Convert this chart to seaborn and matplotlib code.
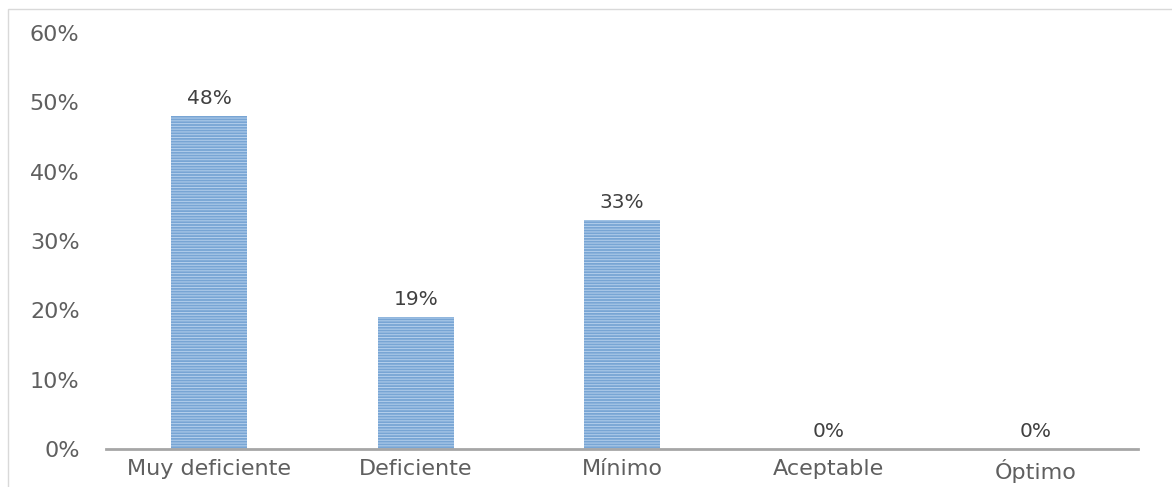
import matplotlib
matplotlib.use("Agg")
import matplotlib.pyplot as plt
import seaborn as sns
import pandas as pd
from matplotlib.patches import Rectangle

categories = ["Muy deficiente", "Deficiente", "Mínimo", "Aceptable", "Óptimo"]
values = [0.48, 0.19, 0.33, 0.0, 0.0]
labels = ["48%", "19%", "33%", "0%", "0%"]
yticks = [0, 0.1, 0.2, 0.3, 0.4, 0.5, 0.6]
ytick_labels = ["0%", "10%", "20%", "30%", "40%", "50%", "60%"]

sns.set_theme(style="white")
plt.rcParams["font.family"] = ["DejaVu Sans"]
plt.rcParams["hatch.linewidth"] = 0.7

df = pd.DataFrame({"cat": categories, "val": values})

fig = plt.figure(figsize=(11.72, 4.87), dpi=100)
ax = fig.add_axes([0.0904, 0.078, 0.881, 0.854])

sns.barplot(data=df, x="cat", y="val", color="#78a5d4", saturation=1,
            width=0.37, ax=ax)
for p in ax.patches:
    p.set_hatch("------")
    p.set_edgecolor("#b5d0ec")
    p.set_linewidth(0)

ax.set_ylim(0, 0.6)
ax.set_xlim(-0.5, 4.5)
ax.set_yticks(yticks)
ax.set_yticklabels(ytick_labels, fontsize=16, color="#5f5f5f")
ax.tick_params(axis="x", labelsize=16, colors="#5f5f5f", length=0, pad=7)
ax.tick_params(axis="y", length=0, pad=19)
ax.set_xlabel("")
ax.set_ylabel("")

for s in ["top", "right", "left"]:
    ax.spines[s].set_visible(False)
ax.spines["bottom"].set_color("#a6a6a6")
ax.spines["bottom"].set_linewidth(2)

for i, (v, lab) in enumerate(zip(values, labels)):
    ax.annotate(lab, (i, v), xytext=(0, 6), textcoords="offset points",
                ha="center", va="bottom", fontsize=14.5, color="#404040")

fig.patches.append(Rectangle((0.007, -0.1), 1.2, 1.082, transform=fig.transFigure,
                             fill=False, edgecolor="#d9d9d9", linewidth=1))

fig.savefig("out.png", dpi=100)
